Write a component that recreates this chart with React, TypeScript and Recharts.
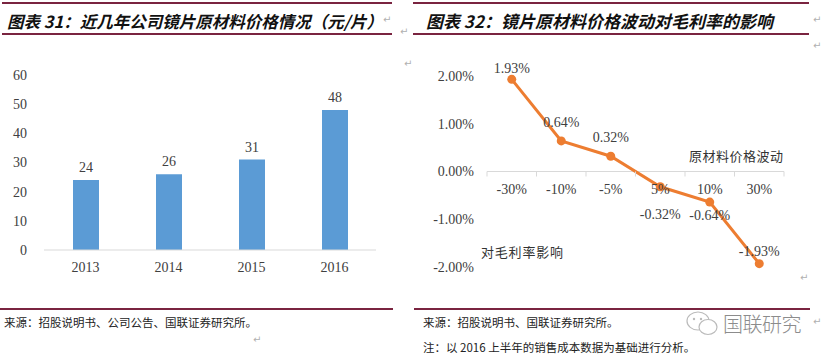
import React from 'react';
import {
  BarChart,
  Bar,
  XAxis,
  YAxis,
  LabelList,
  LineChart,
  Line,
  ReferenceLine,
} from 'recharts';

// chart 31: lens raw material price (yuan / piece)
const years = ['2013', '2014', '2015', '2016'];
const prices = [24, 26, 31, 48];
const priceTicks = [0, 10, 20, 30, 40, 50, 60];

// chart 32: raw material price change -> gross margin impact (%)
const priceChanges = ['-30%', '-10%', '-5%', '5%', '10%', '30%'];
const marginImpact = [1.93, 0.64, 0.32, -0.32, -0.64, -1.93];
const impactTicks = [-2, -1, 0, 1, 2];

const barData = years.map((year, i) => ({ year, price: prices[i] }));
const lineData = priceChanges.map((change, i) => ({ change, impact: marginImpact[i] }));

const NUM_FONT = '"Liberation Serif", "Times New Roman", serif';
const CJK_FONT = '"Noto Sans CJK SC", "Noto Sans", sans-serif';
const RULE = '#7a2440';
const AXIS = '#d9d9d9';
const TEXT = '#404040';

// line chart layout
const LINE_W = 400;
const LINE_H = 300;
const LINE_MARGIN = { top: 76, right: 30, bottom: 3, left: 0 };
const LINE_YAXIS_W = 73;
const LINE_XAXIS_H = 30;
const PLOT_W = LINE_W - LINE_MARGIN.left - LINE_MARGIN.right - LINE_YAXIS_W;
const PLOT_H = LINE_H - LINE_MARGIN.top - LINE_MARGIN.bottom - LINE_XAXIS_H;
const BAND = PLOT_W / priceChanges.length;

// label placement relative to each point (style only)
const labelDy = [-11, -19, -19, 27, 13, -13];

const ChangeTick = (props: any) => {
  const { x, y, payload, index } = props;
  // x axis sits on the zero line, halfway up the symmetric domain
  const zeroY = y - PLOT_H / 2;
  const left = x - BAND / 2;
  return (
    <g>
      <line x1={left} x2={left} y1={zeroY} y2={zeroY + 5} stroke={AXIS} />
      {index === priceChanges.length - 1 && (
        <line x1={x + BAND / 2} x2={x + BAND / 2} y1={zeroY} y2={zeroY + 5} stroke={AXIS} />
      )}
      <text x={x} y={zeroY + 22} textAnchor="middle" fill={TEXT} fontSize={14} fontFamily={NUM_FONT}>
        {payload.value}
      </text>
    </g>
  );
};

const ImpactLabel = (props: any) => {
  const { x, y, value, index } = props;
  return (
    <text
      x={x}
      y={y + labelDy[index]}
      dy="0.35em"
      textAnchor="middle"
      fill={TEXT}
      fontSize={14}
      fontFamily={NUM_FONT}
    >
      {value.toFixed(2)}%
    </text>
  );
};

const Mark = ({ x, y }: { x: number; y: number }) => (
  <span style={{ position: 'absolute', left: x, top: y, fontSize: 10, color: '#b0b0b0', fontFamily: 'DejaVu Sans' }}>
    ↵
  </span>
);

const Rule = ({ x, y, w }: { x: number; y: number; w: number }) => (
  <div style={{ position: 'absolute', left: x, top: y, width: w, height: 2, background: RULE }} />
);

const titleStyle: React.CSSProperties = {
  position: 'absolute',
  top: 9,
  fontFamily: CJK_FONT,
  fontWeight: 700,
  fontStyle: 'italic',
  fontSize: 16.5,
  lineHeight: '24px',
  color: '#111',
  whiteSpace: 'nowrap',
};

const noteStyle: React.CSSProperties = {
  position: 'absolute',
  fontFamily: CJK_FONT,
  fontSize: 11.5,
  lineHeight: '16px',
  color: '#222',
  whiteSpace: 'nowrap',
};

export default function App() {
  return (
    <div
      style={{
        position: 'absolute',
        left: 0,
        top: 0,
        width: 827,
        height: 364,
        background: '#fff',
        overflow: 'hidden',
      }}
    >
      {/* headers */}
      <Rule x={2} y={2} w={390} />
      <Rule x={2} y={33} w={390} />
      <div style={{ ...titleStyle, left: 7 }}>图表 31：近几年公司镜片原材料价格情况（元/片）</div>
      <Rule x={413} y={2} w={396} />
      <Rule x={413} y={33} w={396} />
      <div style={{ ...titleStyle, left: 426, fontSize: 17 }}>图表 32：镜片原材料价格波动对毛利率的影响</div>
      <Mark x={383} y={14} />
      <Mark x={400} y={26} />
      <Mark x={813} y={14} />
      <Mark x={813} y={40} />

      {/* chart 31 */}
      <div style={{ position: 'absolute', left: 0, top: 0 }}>
        <BarChart
          width={400}
          height={300}
          data={barData}
          margin={{ top: 75, right: 24, bottom: 20, left: 0 }}
        >
          <XAxis
            dataKey="year"
            height={30}
            axisLine={{ stroke: AXIS }}
            tickLine={false}
            tickSize={0}
            tickMargin={12}
            tick={{ fill: TEXT, fontSize: 14, fontFamily: NUM_FONT }}
          />
          <YAxis
            width={44}
            domain={[0, 60]}
            ticks={priceTicks}
            axisLine={false}
            tickLine={false}
            tickSize={0}
            tickMargin={17}
            tick={{ fill: TEXT, fontSize: 14, fontFamily: NUM_FONT }}
          />
          <Bar dataKey="price" fill="#5b9bd5" barSize={26} isAnimationActive={false}>
            <LabelList
              dataKey="price"
              position="top"
              offset={8}
              fill={TEXT}
              fontSize={14}
              fontFamily={NUM_FONT}
            />
          </Bar>
        </BarChart>
      </div>

      {/* chart 32 */}
      <div style={{ position: 'absolute', left: 414, top: 0 }}>
        <LineChart width={LINE_W} height={LINE_H} data={lineData} margin={LINE_MARGIN}>
          <XAxis
            dataKey="change"
            height={LINE_XAXIS_H}
            padding={{ left: BAND / 2, right: BAND / 2 }}
            axisLine={false}
            tickLine={false}
            tickSize={0}
            tickMargin={0}
            tick={<ChangeTick />}
            interval={0}
          />
          <YAxis
            width={LINE_YAXIS_W}
            domain={[-2, 2]}
            ticks={impactTicks}
            axisLine={false}
            tickLine={false}
            tickSize={0}
            tickMargin={13}
            tickFormatter={(v: number) => `${v.toFixed(2)}%`}
            tick={{ fill: TEXT, fontSize: 14, fontFamily: NUM_FONT }}
          />
          <ReferenceLine y={0} stroke={AXIS} strokeWidth={1} />
          <Line
            dataKey="impact"
            stroke="#ed7d31"
            strokeWidth={3}
            dot={{ r: 4.5, fill: '#ed7d31', stroke: 'none' }}
            isAnimationActive={false}
          >
            <LabelList dataKey="impact" content={<ImpactLabel />} />
          </Line>
        </LineChart>
      </div>
      <div style={{ ...noteStyle, left: 689, top: 148, fontSize: 13, letterSpacing: 0.5, color: '#333' }}>
        原材料价格波动
      </div>
      <div style={{ ...noteStyle, left: 481, top: 244, fontSize: 13, letterSpacing: 0.8, color: '#333' }}>
        对毛利率影响
      </div>
      <Mark x={404} y={58} />
      <Mark x={800} y={272} />

      {/* footers */}
      <Rule x={0} y={308} w={393} />
      <Rule x={414} y={308} w={396} />
      <div style={{ ...noteStyle, left: 4, top: 314 }}>来源：招股说明书、公司公告、国联证券研究所。</div>
      <div style={{ ...noteStyle, left: 423, top: 314 }}>来源：招股说明书、国联证券研究所。</div>
      <div style={{ ...noteStyle, left: 423, top: 339 }}>注：以 2016 上半年的销售成本数据为基础进行分析。</div>
      <Mark x={253} y={334} />
      <Mark x={813} y={316} />

      {/* watermark */}
      <svg style={{ position: 'absolute', left: 685, top: 310 }} width={36} height={28}>
        <ellipse cx={13} cy={11} rx={11} ry={9} fill="none" stroke="#bbb" strokeWidth={1.2} />
        <ellipse cx={23} cy={17} rx={9} ry={7.5} fill="#fff" stroke="#bbb" strokeWidth={1.2} />
        <circle cx={9} cy={9} r={1.2} fill="#bbb" />
        <circle cx={16} cy={9} r={1.2} fill="#bbb" />
      </svg>
      <div
        style={{
          position: 'absolute',
          left: 723,
          top: 309,
          fontFamily: CJK_FONT,
          fontWeight: 300,
          fontSize: 20,
          letterSpacing: -0.5,
          color: '#8c8c8c',
          whiteSpace: 'nowrap',
        }}
      >
        国联研究
      </div>
    </div>
  );
}
